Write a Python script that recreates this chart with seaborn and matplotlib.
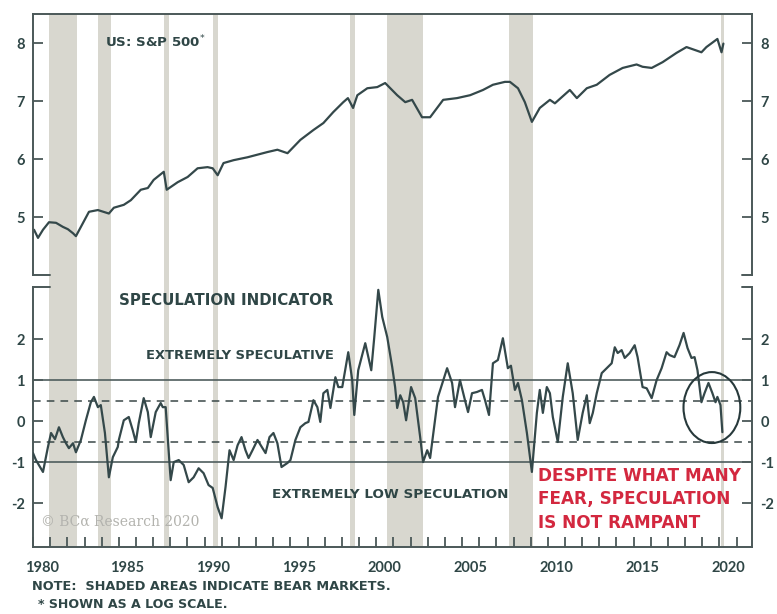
import numpy as np
import pandas as pd
import matplotlib
matplotlib.use("Agg")
import matplotlib.pyplot as plt
from matplotlib.patches import Ellipse
from matplotlib.ticker import FixedLocator
import seaborn as sns

# ---- S&P 500 (natural log of index level) ----
sp_year = [1980.06, 1980.29, 1980.58, 1980.93, 1981.34, 1981.74, 1982.03, 1982.33, 1982.50, 1982.79,
           1983.26, 1983.78, 1984.42, 1984.71, 1985.29, 1985.70, 1986.28, 1986.69, 1987.03, 1987.62,
           1987.79, 1988.43, 1989.01, 1989.59, 1990.17, 1990.47, 1990.76, 1991.10, 1991.69, 1992.50,
           1993.66, 1994.24, 1994.83, 1995.58, 1996.34, 1996.92, 1997.50, 1998.08, 1998.35, 1998.65,
           1998.90, 1999.48, 2000.06, 2000.52, 2001.22, 2001.69, 2002.09, 2002.67, 2003.14, 2003.90,
           2004.71, 2005.47, 2006.22, 2006.80, 2007.50, 2007.79, 2008.26, 2008.66, 2009.07, 2009.53,
           2010.12, 2010.41, 2011.28, 2011.69, 2012.27, 2012.85, 2013.60, 2014.36, 2015.17, 2015.52,
           2016.05, 2016.69, 2017.50, 2018.08, 2018.95, 2019.24, 2019.88, 2020.12, 2020.23]
sp_log = [4.78, 4.64, 4.78, 4.91, 4.90, 4.83, 4.79, 4.72, 4.67, 4.83,
          5.09, 5.12, 5.06, 5.16, 5.21, 5.29, 5.47, 5.50, 5.64, 5.78,
          5.47, 5.60, 5.69, 5.84, 5.86, 5.84, 5.72, 5.93, 5.98, 6.03,
          6.12, 6.16, 6.10, 6.33, 6.50, 6.62, 6.81, 6.98, 7.05, 6.88,
          7.10, 7.22, 7.24, 7.31, 7.10, 6.98, 7.02, 6.72, 6.72, 7.02,
          7.05, 7.10, 7.19, 7.28, 7.33, 7.33, 7.22, 6.98, 6.64, 6.88,
          7.02, 6.96, 7.19, 7.05, 7.22, 7.28, 7.45, 7.57, 7.63, 7.59,
          7.57, 7.67, 7.83, 7.93, 7.84, 7.93, 8.07, 7.84, 7.99]

# ---- Speculation indicator ----
spec_year = [1980.00, 1980.17, 1980.58, 1980.87, 1981.05, 1981.28, 1981.51, 1981.74, 1981.92, 1982.09,
             1982.33, 1982.50, 1982.79, 1983.08, 1983.37, 1983.55, 1983.78, 1983.95, 1984.19, 1984.42,
             1984.65, 1984.94, 1985.00, 1985.29, 1985.58, 1985.81, 1985.99, 1986.16, 1986.45, 1986.69,
             1986.86, 1987.15, 1987.44, 1987.56, 1987.73, 1987.91, 1988.02, 1988.20, 1988.49, 1988.78,
             1989.07, 1989.36, 1989.65, 1989.94, 1990.23, 1990.47, 1990.76, 1990.99, 1991.22, 1991.45,
             1991.69, 1991.92, 1992.15, 1992.38, 1992.56, 1992.79, 1993.08, 1993.37, 1993.55, 1993.78,
             1994.01, 1994.24, 1994.48, 1994.83, 1995.00, 1995.29, 1995.58, 1995.87, 1996.05, 1996.34,
             1996.57, 1996.74, 1996.92, 1997.15, 1997.33, 1997.62, 1997.79, 1998.02, 1998.37, 1998.60,
             1998.72, 1998.95, 1999.36, 1999.71, 1999.88, 2000.12, 2000.35, 2000.64, 2000.93, 2001.10,
             2001.22, 2001.40, 2001.57, 2001.74, 2002.03, 2002.27, 2002.56, 2002.73, 2002.97, 2003.14,
             2003.37, 2003.60, 2004.13, 2004.42, 2004.59, 2004.88, 2005.17, 2005.35, 2005.58, 2005.87,
             2006.16, 2006.34, 2006.57, 2006.80, 2007.09, 2007.38, 2007.67, 2007.85, 2008.08, 2008.26,
             2008.49, 2008.78, 2009.07, 2009.36, 2009.53, 2009.71, 2009.94, 2010.12, 2010.29, 2010.58,
             2010.87, 2011.16, 2011.45, 2011.74, 2012.03, 2012.27, 2012.44, 2012.62, 2012.85, 2013.14,
             2013.43, 2013.72, 2013.90, 2014.07, 2014.30, 2014.48, 2014.77, 2015.06, 2015.23, 2015.52,
             2015.76, 2016.05, 2016.34, 2016.63, 2016.92, 2017.09, 2017.38, 2017.67, 2017.91, 2018.14,
             2018.37, 2018.55, 2018.72, 2018.95, 2019.13, 2019.36, 2019.59, 2019.77, 2019.88, 2020.06,
             2020.17]
spec_val = [-0.78, -0.95, -1.24, -0.63, -0.29, -0.44, -0.15, -0.39, -0.54, -0.66,
            -0.54, -0.76, -0.46, 0.02, 0.46, 0.59, 0.34, 0.39, -0.29, -1.37,
            -0.88, -0.63, -0.46, 0.02, 0.10, -0.22, -0.51, -0.05, 0.56, 0.22,
            -0.39, 0.22, 0.44, 0.34, 0.34, -0.78, -1.44, -1.00, -0.95, -1.07,
            -1.49, -1.37, -1.15, -1.27, -1.56, -1.63, -2.10, -2.37, -1.60, -0.71,
            -0.95, -0.59, -0.39, -0.71, -0.90, -0.71, -0.46, -0.66, -0.78, -0.39,
            -0.29, -0.54, -1.12, -1.02, -0.95, -0.46, -0.15, -0.05, -0.02, 0.51,
            0.34, -0.02, 0.68, 0.76, 0.32, 1.07, 0.83, 0.83, 1.68, 1.00,
            0.15, 1.24, 1.90, 1.24, 2.02, 3.20, 2.54, 2.05, 1.32, 0.83,
            0.32, 0.63, 0.46, 0.02, 0.83, 0.56, -0.39, -1.00, -0.71, -0.90,
            -0.15, 0.59, 1.29, 0.93, 0.34, 1.00, 0.51, 0.22, 0.68, 0.71,
            0.76, 0.51, 0.15, 1.41, 1.49, 2.02, 1.29, 1.35, 0.76, 0.93,
            0.51, -0.29, -1.24, 0.20, 0.76, 0.20, 0.83, 0.68, 0.10, -0.51,
            0.59, 1.41, 0.68, -0.46, 0.20, 0.63, -0.05, 0.20, 0.68, 1.17,
            1.29, 1.41, 1.80, 1.66, 1.73, 1.54, 1.66, 1.85, 1.56, 0.83,
            0.80, 0.56, 1.00, 1.29, 1.68, 1.61, 1.56, 1.85, 2.15, 1.78,
            1.54, 1.56, 1.24, 0.46, 0.68, 0.93, 0.68, 0.46, 0.59, 0.39,
            -0.27]

# ---- Bear markets (start, end) ----
bear_start = [1980.93, 1983.78, 1987.62, 1990.47, 1998.49, 2000.64, 2007.73, 2020.10]
bear_end = [1982.56, 1984.53, 1987.91, 1990.76, 1998.78, 2002.73, 2009.13, 2020.24]

# ---- Reference levels ----
solid_levels = [1.0, -1.0]
dashed_levels = [0.5, -0.5]

top_ticks = [5, 6, 7, 8]
low_ticks = [-2, -1, 0, 1, 2]
year_labels = [1980, 1985, 1990, 1995, 2000, 2005, 2010, 2015, 2020]

sns.set_theme(style="white")
plt.rcParams["font.family"] = ["DejaVu Sans"]

INK = "#2f4646"
LINE = "#34484a"
AXIS = "#4b5858"
SHADE = "#d8d7cf"
RED = "#d3283f"
TICKFONT = ["Lato", "DejaVu Sans"]

fig = plt.figure(figsize=(7.77, 6.14), dpi=100)
left, width = 0.0425, 0.9254
xlim = (1980.0, 2021.9)

# background axes carrying the bear-market shading across both panels
bg = fig.add_axes([left, 0.1091, width, 0.8681], zorder=0)
bg.set_xlim(*xlim)
bg.set_ylim(0, 1)
bg.axis("off")
for s, e in zip(bear_start, bear_end):
    bg.axvspan(s, e, color=SHADE, lw=0)

ax1 = fig.add_axes([left, 0.5521, width, 0.4251], zorder=2)
ax2 = fig.add_axes([left, 0.1091, width, 0.4235], zorder=2)
for ax in (ax1, ax2):
    ax.set_facecolor("none")
    ax.set_xlim(*xlim)
    for sp in ax.spines.values():
        sp.set_color(AXIS)
        sp.set_linewidth(1.4)

# upper panel: S&P 500
sp_df = pd.DataFrame({"year": sp_year, "value": sp_log})
sns.lineplot(data=sp_df, x="year", y="value", ax=ax1, color=LINE, lw=1.6, estimator=None)
ax1.set_ylim(4.0, 8.5)
ax1.spines["bottom"].set_visible(False)
ax1.set_xticks([])
ax1.set_yticks(top_ticks)
ax1.tick_params(axis="y", which="both", direction="in", length=7, width=1.3, color=AXIS,
                left=True, right=True, labelleft=True, labelright=True,
                labelsize=10.5, labelcolor=INK, pad=6)
ax1.set_xlabel("")
ax1.set_ylabel("")
ax1.plot([0, 0.024], [0, 0], transform=ax1.transAxes, color=AXIS, lw=1.4, clip_on=False)
ax1.plot([0.986, 1], [0, 0], transform=ax1.transAxes, color=AXIS, lw=1.4, clip_on=False)
ax1.text(1984.19, 8.02, r"US: S&P 500$^{*}$", color=INK, fontsize=9.6, fontweight="bold",
         ha="left", va="center")

# lower panel: speculation indicator
for lv in solid_levels:
    ax2.axhline(lv, color="#4f5d5d", lw=1.2, zorder=1)
for lv in dashed_levels:
    ax2.axhline(lv, color="#3a4848", lw=1.1, ls=(0, (5, 4)), zorder=1)
spec_df = pd.DataFrame({"year": spec_year, "value": spec_val})
sns.lineplot(data=spec_df, x="year", y="value", ax=ax2, color=LINE, lw=1.6, estimator=None, zorder=3)
ax2.set_ylim(-3.07, 3.27)
ax2.spines["top"].set_visible(False)
ax2.set_yticks(low_ticks)
ax2.set_yticklabels([str(v) for v in low_ticks])
ax2.tick_params(axis="y", which="both", direction="in", length=7, width=1.3, color=AXIS,
                left=True, right=True, labelleft=True, labelright=True,
                labelsize=10.5, labelcolor=INK, pad=6)
ax2.xaxis.set_major_locator(FixedLocator([y + 0.5 for y in year_labels]))
ax2.set_xticklabels([str(y) for y in year_labels])
ax2.xaxis.set_minor_locator(FixedLocator(list(range(1980, 2022))))
ax2.tick_params(axis="x", which="major", length=0, labelsize=10.5, labelcolor=INK, pad=10)
ax2.tick_params(axis="x", which="minor", direction="in", length=7, width=1.3, color=AXIS,
                bottom=True)
ax2.set_xlabel("")
ax2.set_ylabel("")
ax2.plot([0, 0.024], [1, 1], transform=ax2.transAxes, color=AXIS, lw=1.4, clip_on=False)
ax2.plot([0.986, 1], [1, 1], transform=ax2.transAxes, color=AXIS, lw=1.4, clip_on=False)

for lab in (ax1.get_yticklabels() + ax2.get_yticklabels() + ax2.get_xticklabels()):
    lab.set_fontweight("bold")
    lab.set_family(TICKFONT)

ax2.add_patch(Ellipse((2019.56, 0.33), 3.31, 1.73, fill=False, ec="#27393b", lw=1.5, zorder=4))

ax2.text(1985.0, 2.95, "SPECULATION INDICATOR", color=INK, fontsize=10.8, fontweight="bold",
         ha="left", va="center")
ax2.text(1986.57, 1.59, "EXTREMELY SPECULATIVE", color=INK, fontsize=9.4, fontweight="bold",
         ha="left", va="center")
ax2.text(1993.95, -1.80, "EXTREMELY LOW SPECULATION", color=INK, fontsize=9.7, fontweight="bold",
         ha="left", va="center")
ax2.text(1980.47, -2.46, "© BCα Research 2020", color="#b3b3ae", fontsize=10,
         family=["DejaVu Serif"], ha="left", va="center")
ax2.text(2009.42, -1.12, "DESPITE WHAT MANY\nFEAR, SPECULATION\nIS NOT RAMPANT", color=RED,
         fontsize=12.2, fontweight="bold", ha="left", va="top", linespacing=1.38, zorder=5)

fig.text(0.041, 0.044, "NOTE:  SHADED AREAS INDICATE BEAR MARKETS.", color=INK, fontsize=9.3,
         fontweight="bold", ha="left", va="center")
fig.text(0.049, 0.0147, "* SHOWN AS A LOG SCALE.", color=INK, fontsize=9.1,
         fontweight="bold", ha="left", va="center")

fig.savefig("out.png", dpi=100, facecolor="white")
